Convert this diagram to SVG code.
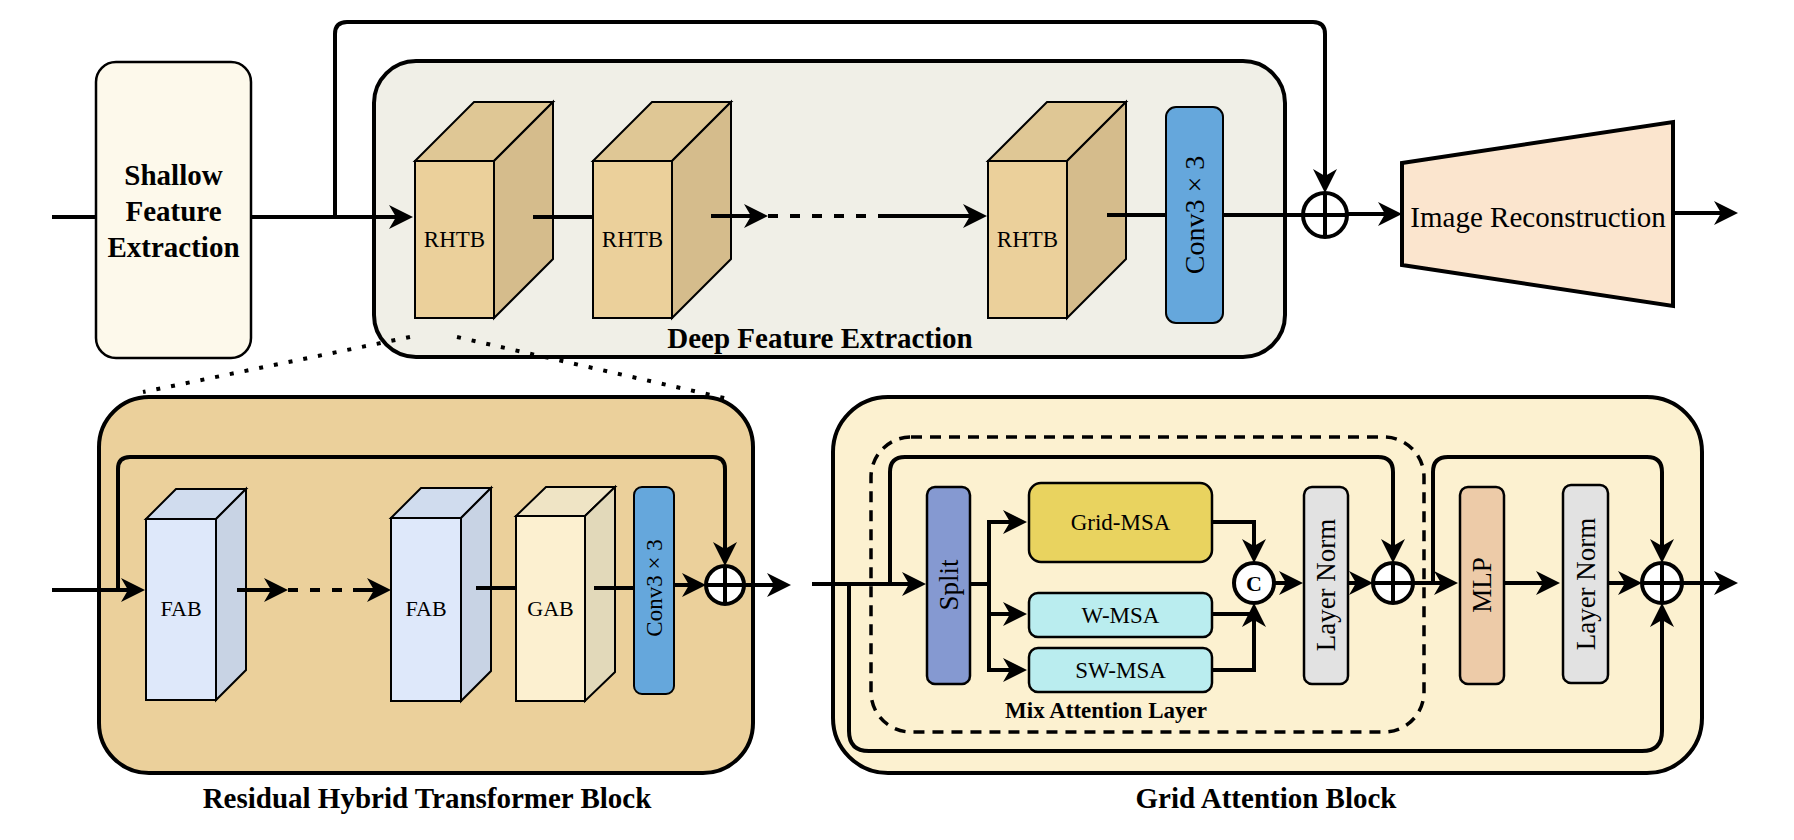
<svg xmlns="http://www.w3.org/2000/svg" width="1794" height="840" viewBox="0 0 1794 840">
<style>
  .t{font-family:"Liberation Serif","Times New Roman",serif;fill:#000}
  .b{font-weight:bold}
  .c{stroke:#000;stroke-width:4;fill:none}
  .thin{stroke:#000;stroke-width:2;}
  .dash{stroke:#000;stroke-width:4;fill:none;stroke-dasharray:10 12}
  .dot{stroke:#000;stroke-width:4;fill:none;stroke-dasharray:4 11}
  .sum{fill:#fff;stroke:#000;stroke-width:4}
</style>
<defs>
  <marker id="ar" viewBox="0 0 24 24" refX="14" refY="12" markerWidth="24" markerHeight="24" markerUnits="userSpaceOnUse" orient="auto">
    <path d="M0,0 L24,12 L0,24 L7,12 Z" fill="#000"/>
  </marker>
</defs>

<!-- Top row -->
<g id="shallow">
  <rect x="96" y="62" width="155" height="296" rx="20" fill="#FDF9EB" stroke="#000" stroke-width="2.5"/>
  <text class="t b" font-size="29" text-anchor="middle" x="173.5" y="185">Shallow</text>
  <text class="t b" font-size="29" text-anchor="middle" x="173.5" y="221">Feature</text>
  <text class="t b" font-size="29" text-anchor="middle" x="173.5" y="257">Extraction</text>
</g>

<g id="deep">
  <rect x="374" y="61" width="911" height="296" rx="42" fill="#F0EFE7" stroke="#000" stroke-width="4"/>
  <text class="t b" font-size="29" text-anchor="middle" x="820" y="348">Deep Feature Extraction</text>
</g>

<g id="rhtb1">
  <rect x="415" y="161" width="79" height="157" fill="#EBD09B" class="thin"/>
  <polygon points="415,161 474,102 553,102 494,161" fill="#DFC795" class="thin"/>
  <polygon points="494,161 553,102 553,259 494,318" fill="#D5BC8C" class="thin"/>
  <text class="t" font-size="23" text-anchor="middle" x="454.5" y="247">RHTB</text>
</g>
<g id="rhtb2">
  <rect x="593" y="161" width="79" height="157" fill="#EBD09B" class="thin"/>
  <polygon points="593,161 652,102 731,102 672,161" fill="#DFC795" class="thin"/>
  <polygon points="672,161 731,102 731,259 672,318" fill="#D5BC8C" class="thin"/>
  <text class="t" font-size="23" text-anchor="middle" x="632.5" y="247">RHTB</text>
</g>
<g id="rhtb3">
  <rect x="988" y="161" width="79" height="157" fill="#EBD09B" class="thin"/>
  <polygon points="988,161 1047,102 1126,102 1067,161" fill="#DFC795" class="thin"/>
  <polygon points="1067,161 1126,102 1126,259 1067,318" fill="#D5BC8C" class="thin"/>
  <text class="t" font-size="23" text-anchor="middle" x="1027.5" y="247">RHTB</text>
</g>
<g id="conv-top">
  <rect x="1166" y="107" width="57" height="216" rx="10" fill="#65A7DC" class="thin"/>
  <text class="t" font-size="28" text-anchor="middle" dominant-baseline="central" transform="translate(1194.5,215) rotate(-90)">Conv3 × 3</text>
</g>
<g id="sum-top">
  <circle cx="1325" cy="215" r="22" class="sum"/>
  <path d="M1303,215 H1347 M1325,193 V237" stroke="#000" stroke-width="4"/>
</g>
<g id="recon">
  <polygon points="1402,163 1673,122 1673,306 1402,265" fill="#FBE5CE" stroke="#000" stroke-width="4"/>
  <text class="t" font-size="29" text-anchor="middle" x="1538" y="227">Image Reconstruction</text>
</g>

<!-- Bottom left: RHTB detail -->
<g id="rhtb-block">
  <rect x="99" y="397" width="654" height="376" rx="50" fill="#EBD09B" stroke="#000" stroke-width="4"/>
  <text class="t b" font-size="29" text-anchor="middle" x="427" y="808">Residual Hybrid Transformer Block</text>
</g>
<g id="fab1">
  <rect x="146" y="519" width="70" height="181" fill="#DEE8FA" class="thin"/>
  <polygon points="146,519 176,489 246,489 216,519" fill="#D0DCEE" class="thin"/>
  <polygon points="216,519 246,489 246,670 216,700" fill="#C8D3E4" class="thin"/>
  <text class="t" font-size="22" text-anchor="middle" x="181" y="616">FAB</text>
</g>
<g id="fab2">
  <rect x="391" y="518" width="70" height="183" fill="#DEE8FA" class="thin"/>
  <polygon points="391,518 421,488 491,488 461,518" fill="#D0DCEE" class="thin"/>
  <polygon points="461,518 491,488 491,671 461,701" fill="#C8D3E4" class="thin"/>
  <text class="t" font-size="22" text-anchor="middle" x="426" y="616">FAB</text>
</g>
<g id="gab-cube">
  <rect x="516" y="516" width="69" height="185" fill="#FCF0D0" class="thin"/>
  <polygon points="516,516 546,487 615,487 585,516" fill="#EFE4C5" class="thin"/>
  <polygon points="585,516 615,487 615,672 585,701" fill="#E2D9BA" class="thin"/>
  <text class="t" font-size="22" text-anchor="middle" x="550.5" y="616">GAB</text>
</g>
<g id="conv-rhtb">
  <rect x="634" y="487" width="40" height="207" rx="8" fill="#65A7DC" class="thin"/>
  <text class="t" font-size="23" text-anchor="middle" dominant-baseline="central" transform="translate(654,588) rotate(-90)">Conv3 × 3</text>
</g>
<g id="sum-rhtb">
  <circle cx="725" cy="585" r="19" class="sum"/>
  <path d="M706,585 H744 M725,566 V604" stroke="#000" stroke-width="4"/>
</g>

<!-- Bottom right: Grid Attention Block -->
<g id="gab-block">
  <rect x="833" y="397" width="869" height="376" rx="55" fill="#FCF1D0" stroke="#000" stroke-width="4"/>
  <text class="t b" font-size="29" text-anchor="middle" x="1266" y="808">Grid Attention Block</text>
</g>
<g id="mix-attention">
  <rect x="871" y="437" width="553" height="295" rx="40" fill="none" stroke="#000" stroke-width="3.5" stroke-dasharray="11 8"/>
  <text class="t b" font-size="23" text-anchor="middle" x="1106" y="718">Mix Attention Layer</text>
</g>
<g id="split">
  <rect x="927" y="487" width="43" height="197" rx="8" fill="#8599D1" stroke="#000" stroke-width="2.5"/>
  <text class="t" font-size="27" text-anchor="middle" dominant-baseline="central" transform="translate(948.5,585) rotate(-90)">Split</text>
</g>
<g id="grid-msa">
  <rect x="1029" y="483" width="183" height="79" rx="12" fill="#E9D35F" stroke="#000" stroke-width="2.5"/>
  <text class="t" font-size="23" text-anchor="middle" x="1120.5" y="530">Grid-MSA</text>
</g>
<g id="w-msa">
  <rect x="1029" y="593" width="183" height="44" rx="9" fill="#BAEDEF" stroke="#000" stroke-width="2.5"/>
  <text class="t" font-size="23" text-anchor="middle" x="1120.5" y="623">W-MSA</text>
</g>
<g id="sw-msa">
  <rect x="1029" y="648" width="183" height="44" rx="9" fill="#BAEDEF" stroke="#000" stroke-width="2.5"/>
  <text class="t" font-size="23" text-anchor="middle" x="1120.5" y="678">SW-MSA</text>
</g>
<g id="concat">
  <circle cx="1254" cy="583" r="20" class="sum"/>
  <text class="t b" font-size="22" text-anchor="middle" x="1254" y="591">C</text>
</g>
<g id="layernorm1">
  <rect x="1304" y="487" width="44" height="197" rx="8" fill="#E2E2E2" stroke="#000" stroke-width="2.5"/>
  <text class="t" font-size="27" text-anchor="middle" dominant-baseline="central" transform="translate(1326,585) rotate(-90)">Layer Norm</text>
</g>
<g id="sum-gab1">
  <circle cx="1393" cy="583" r="20" class="sum"/>
  <path d="M1373,583 H1413 M1393,563 V603" stroke="#000" stroke-width="4"/>
</g>
<g id="mlp">
  <rect x="1460" y="487" width="44" height="197" rx="8" fill="#EDCBA8" stroke="#000" stroke-width="2.5"/>
  <text class="t" font-size="27" text-anchor="middle" dominant-baseline="central" transform="translate(1482,585) rotate(-90)">MLP</text>
</g>
<g id="layernorm2">
  <rect x="1563" y="485" width="45" height="198" rx="8" fill="#E2E2E2" stroke="#000" stroke-width="2.5"/>
  <text class="t" font-size="27" text-anchor="middle" dominant-baseline="central" transform="translate(1585.5,584) rotate(-90)">Layer Norm</text>
</g>
<g id="sum-gab2">
  <circle cx="1662" cy="583" r="20" class="sum"/>
  <path d="M1642,583 H1682 M1662,563 V603" stroke="#000" stroke-width="4"/>
</g>

<!-- Connectors -->
<g id="connectors">
  <!-- top -->
  <path class="c" d="M52,217 H96"/>
  <path class="c" d="M251,217 H403" marker-end="url(#ar)"/>
  <path class="c" d="M335,217 V34 Q335,22 347,22 H1313 Q1325,22 1325,34 V183" marker-end="url(#ar)"/>
  <path class="c" d="M533,217 H593"/>
  <path class="c" d="M711,216 H758" marker-end="url(#ar)"/>
  <path class="dash" d="M768,216 H883"/>
  <path class="c" d="M883,216 H977" marker-end="url(#ar)"/>
  <path class="c" d="M1107,215 H1166"/>
  <path class="c" d="M1223,215 H1303"/>
  <path class="c" d="M1347,214 H1392" marker-end="url(#ar)"/>
  <path class="c" d="M1673,213 H1728" marker-end="url(#ar)"/>
  <!-- zoom-in dotted guides -->
  <path class="dot" d="M410,337 L143,392"/>
  <path class="dot" d="M457,337 L733,400"/>
  <!-- RHTB block -->
  <path class="c" d="M52,590 H135" marker-end="url(#ar)"/>
  <path class="c" d="M118,590 V469 Q118,457 130,457 H713 Q725,457 725,469 V556" marker-end="url(#ar)"/>
  <path class="c" d="M237,590 H278" marker-end="url(#ar)"/>
  <path class="dash" d="M288,590 H353"/>
  <path class="c" d="M353,590 H381" marker-end="url(#ar)"/>
  <path class="c" d="M476,588 H516"/>
  <path class="c" d="M594,588 H634"/>
  <path class="c" d="M674,585 H696" marker-end="url(#ar)"/>
  <path class="c" d="M744,585 H781" marker-end="url(#ar)"/>
  <!-- Grid attention block -->
  <path class="c" d="M812,584 H916" marker-end="url(#ar)"/>
  <path class="c" d="M890,584 V472 Q890,457 905,457 H1378 Q1393,457 1393,472 V553" marker-end="url(#ar)"/>
  <path class="c" d="M849,584 V731 Q849,751 869,751 H1642 Q1662,751 1662,731 V613" marker-end="url(#ar)"/>
  <path class="c" d="M970,584 H989"/>
  <path class="c" d="M989,584 V522 H1017" marker-end="url(#ar)"/>
  <path class="c" d="M989,584 V614 H1017" marker-end="url(#ar)"/>
  <path class="c" d="M989,614 V670 H1017" marker-end="url(#ar)"/>
  <path class="c" d="M1212,522 H1254 V553" marker-end="url(#ar)"/>
  <path class="c" d="M1212,614 H1254"/>
  <path class="c" d="M1212,670 H1254 V613" marker-end="url(#ar)"/>
  <path class="c" d="M1274,583 H1293" marker-end="url(#ar)"/>
  <path class="c" d="M1348,583 H1363" marker-end="url(#ar)"/>
  <path class="c" d="M1413,583 H1448" marker-end="url(#ar)"/>
  <path class="c" d="M1433,583 V472 Q1433,457 1448,457 H1647 Q1662,457 1662,472 V553" marker-end="url(#ar)"/>
  <path class="c" d="M1504,583 H1550" marker-end="url(#ar)"/>
  <path class="c" d="M1608,583 H1632" marker-end="url(#ar)"/>
  <path class="c" d="M1682,583 H1728" marker-end="url(#ar)"/>
</g>
</svg>
